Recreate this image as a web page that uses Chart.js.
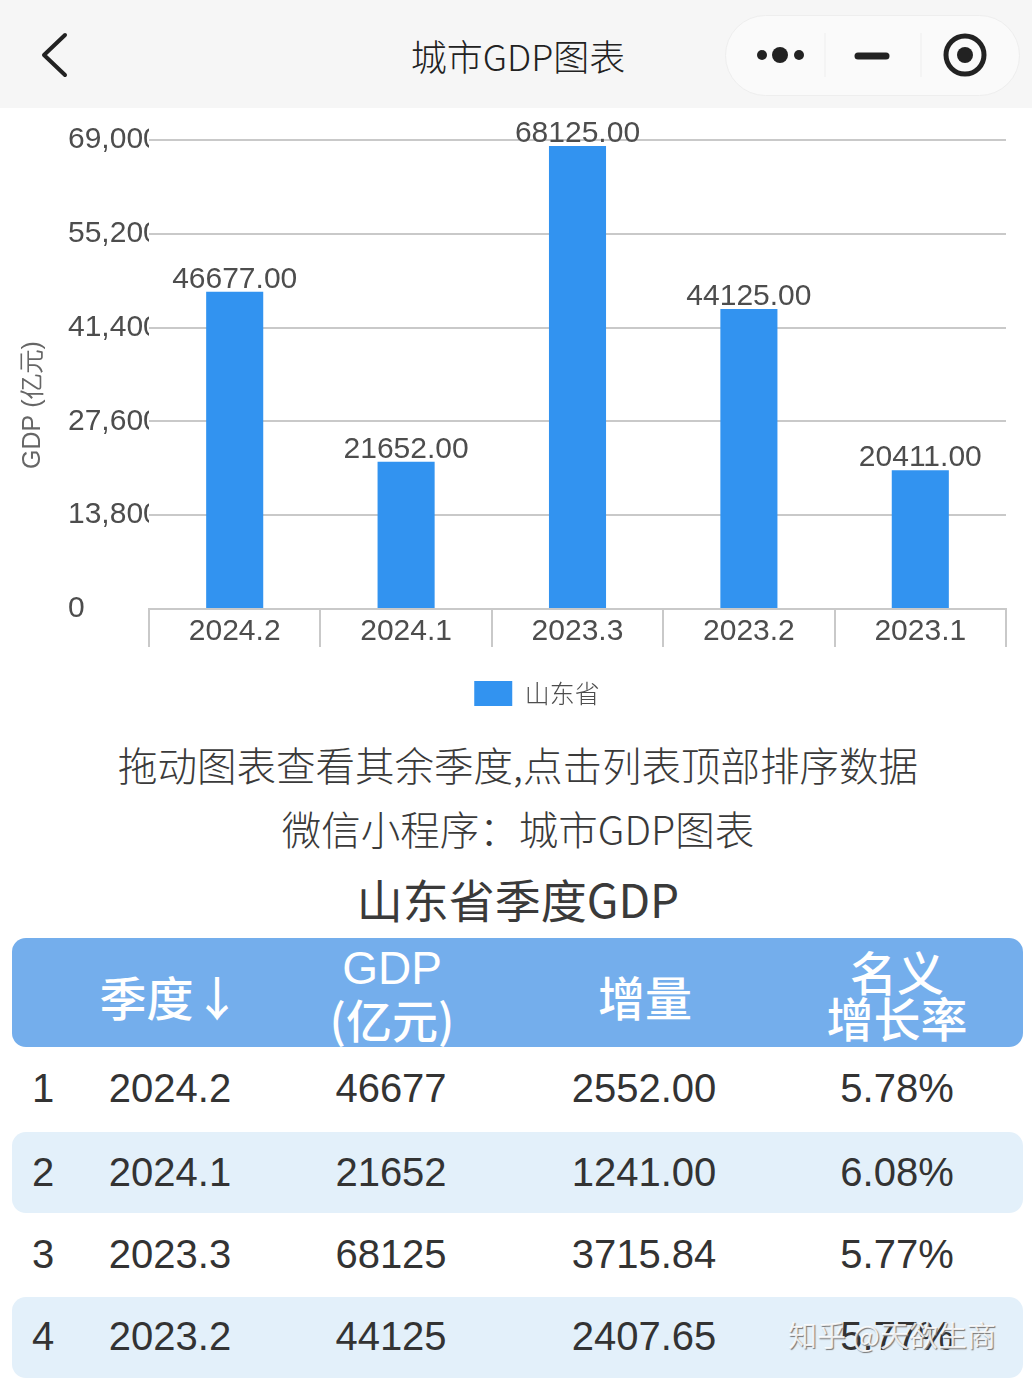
<!DOCTYPE html>
<html><head><meta charset="utf-8">
<script src="https://cdn.jsdelivr.net/npm/chart.js@4"></script>
<style>
html,body{margin:0;padding:0;background:#fff;width:1032px;height:1378px;overflow:hidden}
body{position:relative;font-family:"Noto Sans CJK SC","Liberation Sans",sans-serif}
.t{position:absolute;transform:translate(-50%,-50%);white-space:nowrap;line-height:1}
.l{color:#3a3a3a;font-weight:300}
.h{color:#fff;font-weight:500;font-size:47px;letter-spacing:0}
.c{color:#333;font-family:"Liberation Sans",sans-serif;font-size:40px}
.band{position:absolute;left:12px;width:1011px;background:#e3f0fa;border-radius:14px}
#wrap{position:absolute;left:0;top:110px;width:1032px;height:606px}
</style></head><body>
<div style="position:absolute;left:0;top:0;width:1032px;height:108px;background:#f6f6f6"></div>
<svg style="position:absolute;left:0;top:0" width="1032" height="108">
<polyline points="65,35 44,55 65,75" fill="none" stroke="#222" stroke-width="4" stroke-linecap="round" stroke-linejoin="round"/>
<rect x="725.5" y="15.5" width="294" height="80" rx="40" fill="#fafafa" stroke="#eeeeee"/>
<line x1="825" y1="33" x2="825" y2="77" stroke="#eeeeee"/><line x1="921" y1="33" x2="921" y2="77" stroke="#eeeeee"/>
<circle cx="762" cy="55" r="5" fill="#222"/><circle cx="780" cy="55" r="8" fill="#222"/><circle cx="799" cy="55" r="5" fill="#222"/>
<line x1="858" y1="56" x2="886" y2="56" stroke="#222" stroke-width="7" stroke-linecap="round"/>
<circle cx="965" cy="55" r="19" fill="none" stroke="#222" stroke-width="5"/><circle cx="965" cy="55" r="8" fill="#222"/>
</svg>
<div class="t" style="left:518px;top:55px;font-size:36px;color:#222;font-weight:300" id="appTitle"></div>
<div id="wrap"><canvas id="c" width="1032" height="606"></canvas></div>
<div class="t l" style="left:518px;top:764px;font-size:39.5px" id="hint1"></div>
<div class="t l" style="left:518px;top:828px;font-size:39.5px" id="hint2"></div>
<div class="t l" style="left:518px;top:898px;font-size:46px;font-weight:400" id="tblTitle"></div>
<div id="table"></div>
<div class="t" style="left:892px;top:1334px;font-size:29px;color:rgba(255,255,255,.85);text-shadow:1px 1px 1px #777;font-weight:400" id="wm"></div>
<script>
const categories=["2024.2","2024.1","2023.3","2023.2","2023.1"];
const gdpValues=[46677,21652,68125,44125,20411];
const yTicks=[0,13800,27600,41400,55200,69000];
const seriesName="山东省";
const yAxisTitle="GDP (亿元)";
const rowRanks=["1","2","3","4"];
const rowQuarters=["2024.2","2024.1","2023.3","2023.2"];
const rowGdp=["46677","21652","68125","44125"];
const rowIncrease=["2552.00","1241.00","3715.84","2407.65"];
const rowGrowth=["5.78%","6.08%","5.77%","5.77%"];
const headQuarter="季度↓";
const headGdp=["GDP","(亿元)"];
const headIncrease="增量";
const headGrowth=["名义","增长率"];

document.getElementById('appTitle').textContent="城市GDP图表";
document.getElementById('hint1').textContent="拖动图表查看其余季度,点击列表顶部排序数据";
document.getElementById('hint2').textContent="微信小程序：城市GDP图表";
document.getElementById('tblTitle').textContent="山东省季度GDP";
document.getElementById('wm').textContent="知乎 @天欲生商";

const NARROW='"Liberation Sans Narrow","Liberation Sans",sans-serif';
const INK='#4d4d4d', GRID='#c9c9c9';
const barLabels={id:'barLabels',afterDatasetsDraw(ch){
  const g=ch.ctx;g.save();
  g.font='30px '+NARROW;g.fillStyle=INK;g.textAlign='center';g.textBaseline='alphabetic';
  ch.getDatasetMeta(0).data.forEach((b,i)=>{g.fillText(gdpValues[i].toFixed(2),b.x,b.y-4);});
  g.restore();
}};
const yTitle={id:'yTitle',afterDraw(ch){
  const g=ch.ctx;g.save();g.translate(33,295);g.rotate(-Math.PI/2);
  g.font='25px '+NARROW;g.fillStyle='#666';g.textAlign='center';g.textBaseline='middle';
  g.fillText(yAxisTitle,0,0);g.restore();
}};
new Chart(document.getElementById('c'),{
  type:'bar',
  data:{labels:categories,datasets:[{label:seriesName,data:gdpValues,backgroundColor:'#3293f0',borderWidth:0,categoryPercentage:1,barPercentage:0.333}]},
  plugins:[barLabels,yTitle],
  options:{
    responsive:false,animation:false,
    layout:{padding:{left:68,right:26,top:30,bottom:0}},
    plugins:{tooltip:{enabled:false},
      legend:{position:'bottom',labels:{boxWidth:38,boxHeight:25,padding:10,color:'#4d4d4d',font:{size:25,family:'"Noto Sans CJK SC"',weight:'300'}}}},
    scales:{
      x:{
        afterFit(s){s.height=62;},
        grid:{drawOnChartArea:false,tickLength:38,color:GRID,lineWidth:2,offset:true},
        border:{color:GRID,width:2},
        ticks:{padding:-33,color:INK,maxRotation:0,font:{size:30,family:NARROW}}
      },
      y:{
        min:0,max:69000,
        afterFit(s){s.width=81;},
        afterBuildTicks(s){s.ticks=yTicks.map(v=>({value:v}));},
        grid:{color:GRID,lineWidth:2,drawTicks:false},
        border:{display:false},
        ticks:{crossAlign:'far',padding:0,color:INK,font:{size:30,family:NARROW}}
      }
    }
  }
});

const T=document.getElementById('table');
function put(cls,x,y,txt,extra){const d=document.createElement('div');d.className='t '+cls;d.style.left=x+'px';d.style.top=y+'px';d.textContent=txt;if(extra)d.style.cssText+=extra;T.appendChild(d);}
function band(y,h,bg,r){const d=document.createElement('div');d.className='band';d.style.top=y+'px';d.style.height=h+'px';if(bg)d.style.background=bg;T.appendChild(d);}
band(938,109,'#74aeec');
band(1132,81);band(1297,81);
put('h',170,995,headQuarter);
put('h',392,968,headGdp[0],'font-family:"Liberation Sans";font-weight:400;font-size:46px');
put('h',392,1018,headGdp[1],'font-size:46px');
put('h',645,995,headIncrease);
put('h',897,970,headGrowth[0]);
put('h',897,1016,headGrowth[1]);
const rowY=[1088,1172,1254,1336];
rowRanks.forEach((r,i)=>{
  put('c',43,rowY[i],r);
  put('c',170,rowY[i],rowQuarters[i]);
  put('c',391,rowY[i],rowGdp[i]);
  put('c',644,rowY[i],rowIncrease[i]);
  put('c',897,rowY[i],rowGrowth[i]);
});
</script>
</body></html>
